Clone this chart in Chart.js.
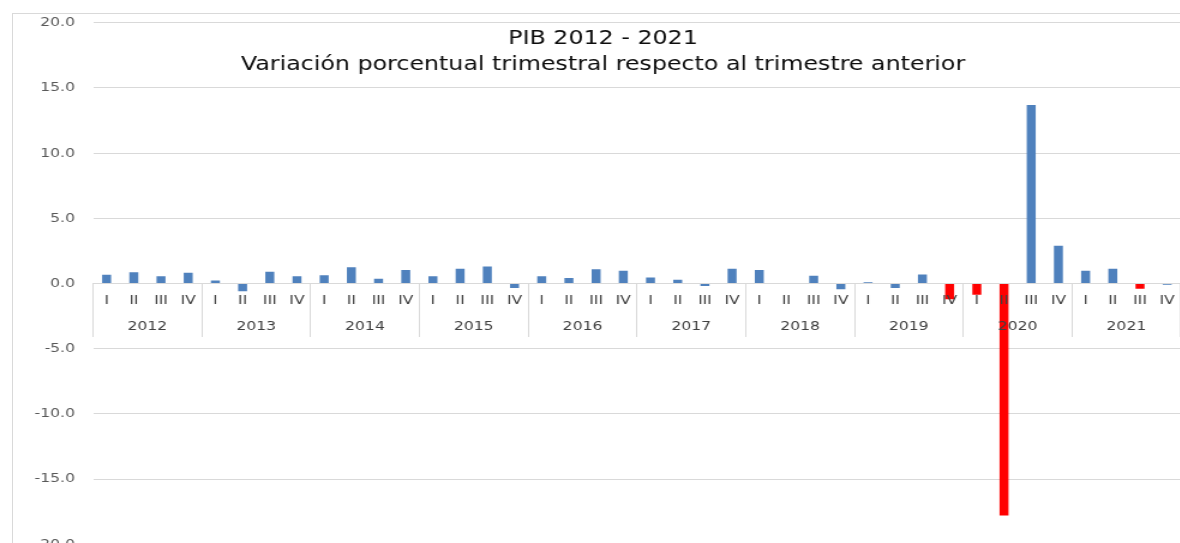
<!DOCTYPE html>
<html>
<head>
<meta charset="utf-8">
<script src="https://cdn.jsdelivr.net/npm/chart.js@4/dist/chart.umd.min.js"></script>
<style>
	html, body { margin: 0; padding: 0; background: #fff; overflow: hidden; }
	/* la imagen original está estirada en horizontal: se reproduce con scaleX */
	#wrap { position: absolute; left: 0; top: 0; width: 988px; height: 567px;
		transform: scaleX(1.2); transform-origin: 0 0; }
	#frame { position: absolute; left: 12px; top: 13px; width: 1180px; height: 540px;
		border-left: 1px solid #d9d9d9; border-top: 1px solid #d9d9d9; }
</style>
</head>
<body>
<div id="frame"></div>
<div id="wrap"><canvas id="pibChart" width="988" height="567"></canvas></div>
<script>
// datos
const years = ['2012', '2013', '2014', '2015', '2016', '2017', '2018', '2019', '2020', '2021'];
const quarters = ['I', 'II', 'III', 'IV'];
const variation = [
	0.67, 0.87, 0.55, 0.82,
	0.23, -0.6, 0.9, 0.55,
	0.64, 1.25, 0.36, 1.03,
	0.55, 1.13, 1.3, -0.35,
	0.55, 0.42, 1.1, 0.97,
	0.46, 0.28, -0.2, 1.13,
	1.03, 0.0, 0.6, -0.45,
	0.1, -0.35, 0.7, -1.2,
	-0.87, -17.8, 13.7, 2.9,
	0.97, 1.13, -0.4, -0.1
];
const redBars = ['2019-IV', '2020-I', '2020-II', '2021-III'];
const yTicks = [-20, -15, -10, -5, 0, 5, 10, 15, 20];
const titleLines = ['PIB 2012 - 2021', 'Variación porcentual trimestral respecto al trimestre anterior'];

const labels = [];
const keys = [];
years.forEach(y => quarters.forEach(q => { labels.push(q); keys.push(y + '-' + q); }));

const FONT = "'DejaVu Sans', Verdana, sans-serif";
const GRID = '#d9d9d9';

// título dibujado encima del área de trazado (como en Excel)
const titlePlugin = {
	id: 'overTitle',
	afterDraw(chart) {
		const ctx = chart.ctx;
		ctx.save();
		ctx.fillStyle = '#0d0d0d';
		ctx.font = '19.8px ' + FONT;
		ctx.textAlign = 'center';
		ctx.textBaseline = 'middle';
		ctx.fillText(titleLines[0], 502.5, 39);
		ctx.fillText(titleLines[1], 502.5, 65);
		ctx.restore();
	}
};

new Chart(document.getElementById('pibChart'), {
	type: 'bar',
	data: {
		labels: labels,
		datasets: [{
			data: variation,
			backgroundColor: ctx => redBars.includes(keys[ctx.dataIndex]) ? '#ff0000' : '#4f81bd',
			barPercentage: 0.33,
			categoryPercentage: 1.0
		}]
	},
	options: {
		responsive: false,
		animation: false,
		layout: { padding: { top: 19, bottom: 10, left: 0, right: 0 } },
		plugins: { legend: { display: false }, tooltip: { enabled: false }, title: { display: false } },
		scales: {
			y: {
				min: -20, max: 20,
				afterBuildTicks: s => { s.ticks = yTicks.map(v => ({ value: v })); },
				afterFit: s => { s.width = 77.5; },
				grid: { color: GRID, lineWidth: 1, drawTicks: false },
				border: { display: false },
				ticks: {
					padding: 15,
					color: '#595959',
					font: { family: FONT, size: 13 },
					callback: v => v.toFixed(1)
				}
			},
			x: {
				position: { y: 0 },
				grid: { display: false, drawTicks: false },
				border: { display: true, color: GRID },
				ticks: {
					z: 1,
					autoSkip: false, maxRotation: 0, padding: 9,
					color: '#404040',
					font: { family: FONT, size: 13 }
				}
			},
			xYear: {
				type: 'category',
				labels: years,
				offset: true,
				position: { y: 0 },
				grid: { offset: true, drawOnChartArea: false, drawTicks: true, tickLength: 53, color: GRID },
				border: { display: false },
				ticks: {
					z: 1,
					autoSkip: false, maxRotation: 0, padding: -18,
					color: '#404040',
					font: { family: FONT, size: 13 }
				}
			}
		}
	},
	plugins: [titlePlugin]
});
</script>
</body>
</html>
